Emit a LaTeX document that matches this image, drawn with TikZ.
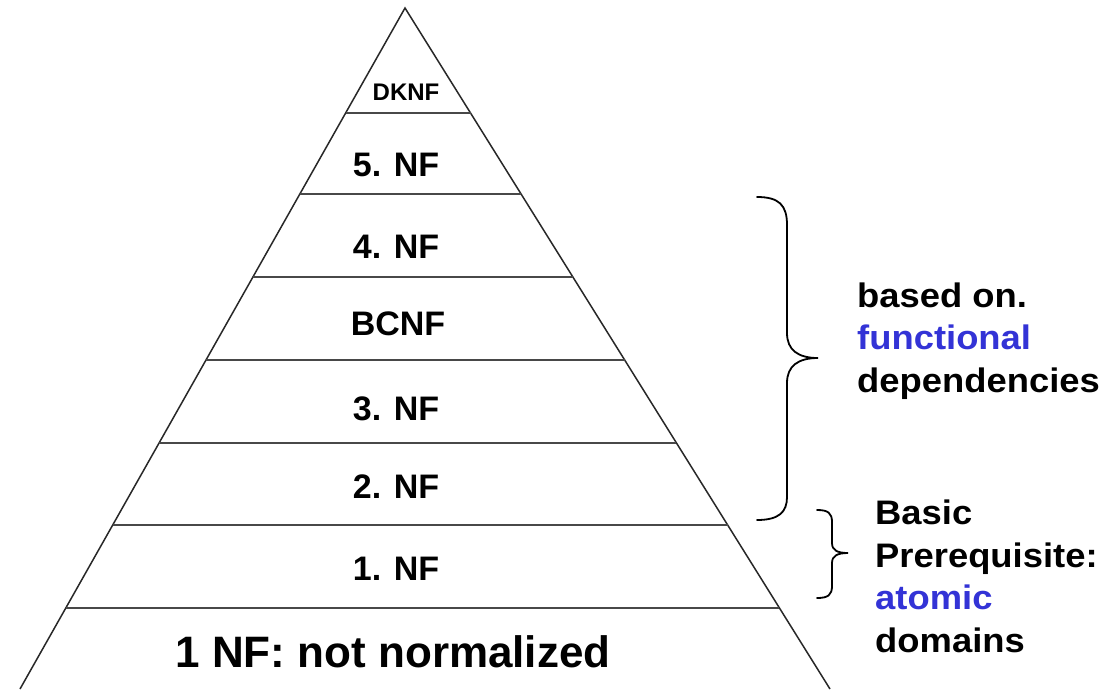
\documentclass[tikz,border=0pt]{standalone}
\usepackage{fontspec}
\setmainfont{Liberation Sans}
\usetikzlibrary{calc}
\definecolor{fdblue}{RGB}{51,51,214}
\definecolor{edgegray}{RGB}{40,40,40}
\tikzset{
  side/.style={draw=edgegray, line width=1.5pt},
  level/.style={draw=edgegray!85, line width=2pt},
  lbl/.style={inner sep=0pt, anchor=base, font=\fontsize{34}{40}\selectfont\bfseries},
  brace/.style={draw=black, line width=1.8pt, line cap=round},
  note/.style={inner sep=0pt, anchor=base west, align=left, xscale=1.07, transform shape,
    font=\fontsize{34}{42.5}\selectfont\bfseries}
}
\begin{document}
\begin{tikzpicture}[x=1pt, y=-1pt]
\useasboundingbox (0,0) rectangle (1110,689);
\fill[white] (0,0) rectangle (1110,689);
\coordinate (A) at (405,8);
\coordinate (L) at (20,689);
\coordinate (R) at (830,689);
\draw[side] (L) -- (A) -- (R);
\foreach \y/\n in {113/1,194/2,277/3,360/4,443/5,525/6,608/7}{
  \coordinate (l\n) at ($(A)!{(\y-8)/681}!(L)$);
  \coordinate (r\n) at ($(A)!{(\y-8)/681}!(R)$);
  \draw[level] (l\n) -- (r\n);
}
\node[lbl, font=\fontsize{24}{28}\selectfont\bfseries] (dknf) at (406,100) {DKNF};
\node[lbl] (nf5) at (396,176) {5. NF};
\node[lbl] (nf4) at (396,258) {4. NF};
\node[lbl] (bcnf) at (398,335) {BCNF};
\node[lbl] (nf3) at (396,420) {3. NF};
\node[lbl] (nf2) at (396,498) {2. NF};
\node[lbl] (nf1) at (396,580) {1. NF};
\node[lbl, font=\fontsize{44}{50}\selectfont\bfseries] (nf0) at (393,667) {1 NF: not normalized};
% big brace
\draw[brace] (757,197) .. controls (779,197) and (787,205) .. (787,225) -- (787,333)
  .. controls (787,350) and (798,358) .. (818,358)
  .. controls (798,358) and (787,366) .. (787,383) -- (787,497)
  .. controls (787,512) and (779,520) .. (757,520);
% small brace
\draw[brace] (817,510) .. controls (828,510) and (832,513) .. (832,522) -- (832,543)
  .. controls (832,550) and (837,553) .. (848,553)
  .. controls (837,553) and (832,556) .. (832,563) -- (832,586)
  .. controls (832,595) and (828,598) .. (817,598);
% anchor base = baseline of the last line
\node[note] (fd) at (857,392) {based on.\\\textcolor{fdblue}{functional}\\dependencies};
\node[note] (ad) at (875,652) {Basic\\Prerequisite:\\\textcolor{fdblue}{atomic}\\domains};
\end{tikzpicture}
\end{document}
